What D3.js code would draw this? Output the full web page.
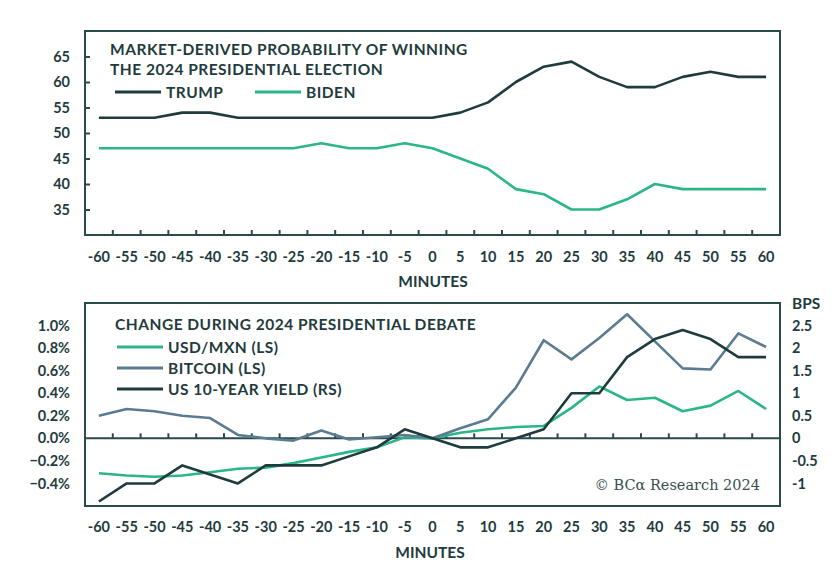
<!DOCTYPE html>
<html>
<head>
<meta charset="utf-8">
<script src="https://cdn.jsdelivr.net/npm/d3@7"></script>
<style>
    body { margin: 0; background: #fff; }
    svg text { font-family: Lato, "Open Sans", sans-serif; fill: #1f3b3d; }
    .axis text { font-size: 14.5px; font-weight: 700; }
    .title { font-size: 15.5px; font-weight: 700; letter-spacing: 0.5px; }
    .legend text { font-size: 15.5px; font-weight: 700; letter-spacing: 0.5px; }
    .frame { fill: none; stroke: #2b4a4c; stroke-width: 2; }
    .line { fill: none; stroke-width: 2.6; stroke-linejoin: round; }
</style>
</head>
<body>
<svg id="chart" width="835" height="580"></svg>
<script>

// data
const minutes = [-60,-55,-50,-45,-40,-35,-30,-25,-20,-15,-10,-5,0,5,10,15,20,25,30,35,40,45,50,55,60];

const trump = [53,53,53,54,54,53,53,53,53,53,53,53,53,54,56,60,63,64,61,59,59,61,62,61,61];
const biden = [47,47,47,47,47,47,47,47,48,47,47,48,47,45,43,39,38,35,35,37,40,39,39,39,39];

const usdmxn  = [-0.31,-0.33,-0.34,-0.33,-0.30,-0.27,-0.26,-0.22,-0.17,-0.12,-0.08,0.01,0,0.05,0.08,0.10,0.11,0.27,0.46,0.34,0.36,0.24,0.29,0.42,0.26];
const bitcoin = [0.20,0.26,0.24,0.20,0.18,0.03,0.00,-0.02,0.07,-0.01,0.01,0.03,0,0.09,0.17,0.45,0.87,0.70,0.89,1.10,0.86,0.62,0.61,0.93,0.81];
const yield10 = [-1.4,-1,-1,-0.6,-0.8,-1,-0.6,-0.6,-0.6,-0.4,-0.2,0.2,0,-0.2,-0.2,0,0.2,1,1,1.8,2.2,2.4,2.2,1.8,1.8];

const probTicks = [35,40,45,50,55,60,65];
const pctTicks  = [-0.4,-0.2,0,0.2,0.4,0.6,0.8,1.0];
const bpsTicks  = [-1,-0.5,0,0.5,1,1.5,2,2.5];

const dark  = "#1f3b3d",
      green = "#2bb689",
      slate = "#5b7b90";

const svg = d3.select('#chart');

const frameL = 85, frameR = 780;

let x = d3.scaleBand()
    .domain(minutes)
    .range([frameL, frameR]);

const cx = function(d){ return x(d) + x.bandwidth()/2 };

// x labels under a frame + inner ticks on a given line
const drawXAxis = function(labelY, tickY){
    let g = svg.append("g")
        .attr("class", "axis")
        .attr("transform", "translate(0," + labelY + ")")
        .call(d3.axisBottom(x).tickSize(0).tickPadding(0).tickFormat(function(d){ return d }));
    g.select(".domain").remove();
    g.selectAll("text").attr("dy", "0.35em");

    svg.append("g").selectAll("line")
        .data(minutes.slice(1))
        .enter()
        .append("line")
        .attr("x1", function(d){ return x(d) })
        .attr("x2", function(d){ return x(d) })
        .attr("y1", tickY)
        .attr("y2", tickY - 5)
        .attr("stroke", "#2b4a4c")
        .attr("stroke-width", 2);
};

const drawLine = function(data, xs, yScale, color){
    let l = d3.line()
        .x(function(d, i){ return cx(xs[i]) })
        .y(function(d){ return yScale(d) });
    svg.append("path")
        .datum(data)
        .attr("class", "line")
        .attr("stroke", color)
        .attr("d", l);
};

const legendItem = function(x0, y0, label, color){
    let g = svg.append("g").attr("class", "legend");
    g.append("line")
        .attr("x1", x0).attr("x2", x0 + 46)
        .attr("y1", y0).attr("y2", y0)
        .attr("stroke", color)
        .attr("stroke-width", 3);
    g.append("text")
        .attr("x", x0 + 51)
        .attr("y", y0)
        .attr("dy", "0.36em")
        .text(label);
};

// ---------- top panel ----------
const topT = 31, topB = 235;

let yProb = d3.scaleLinear().domain([30, 70]).range([topB, topT]);

svg.append("rect")
    .attr("class", "frame")
    .attr("x", frameL).attr("y", topT)
    .attr("width", frameR - frameL).attr("height", topB - topT);

let gl = svg.append("g")
    .attr("class", "axis")
    .attr("transform", "translate(" + frameL + ",0)")
    .call(d3.axisLeft(yProb).tickValues(probTicks).tickSize(-5).tickPadding(15));
gl.select(".domain").remove();
gl.selectAll("line").attr("stroke", "#2b4a4c").attr("stroke-width", 2);

drawXAxis(257, topB);

svg.append("text")
    .attr("class", "axis")
    .attr("x", 433).attr("y", 287)
    .attr("text-anchor", "middle")
    .style("font-size", "15.5px").style("font-weight", 700)
    .text("MINUTES");

drawLine(trump, minutes, yProb, dark);
drawLine(biden, minutes, yProb, green);

svg.append("text").attr("class", "title").attr("x", 110).attr("y", 55)
    .text("MARKET-DERIVED PROBABILITY OF WINNING");
svg.append("text").attr("class", "title").attr("x", 110).attr("y", 75)
    .text("THE 2024 PRESIDENTIAL ELECTION");

legendItem(115, 92, "TRUMP", dark);
legendItem(255, 92, "BIDEN", green);

// ---------- bottom panel ----------
const botT = 303, botB = 506;

let yPct = d3.scaleLinear().domain([-0.6, 1.2]).range([botB, botT]);
let yBps = d3.scaleLinear().domain([-1.5, 3]).range([botB, botT]);

svg.append("rect")
    .attr("class", "frame")
    .attr("x", frameL).attr("y", botT)
    .attr("width", frameR - frameL).attr("height", botB - botT);

svg.append("line")
    .attr("x1", frameL).attr("x2", frameR)
    .attr("y1", yPct(0)).attr("y2", yPct(0))
    .attr("stroke", "#2b4a4c")
    .attr("stroke-width", 2);

let gp = svg.append("g")
    .attr("class", "axis")
    .attr("transform", "translate(" + frameL + ",0)")
    .call(d3.axisLeft(yPct).tickValues(pctTicks).tickSize(0).tickPadding(15)
        .tickFormat(function(d){ return d3.format(".1f")(d) + "%" }));
gp.select(".domain").remove();

let gr = svg.append("g")
    .attr("class", "axis")
    .attr("transform", "translate(" + frameR + ",0)")
    .call(d3.axisRight(yBps).tickValues(bpsTicks).tickSize(0).tickPadding(12)
        .tickFormat(function(d){ return d }));
gr.select(".domain").remove();

svg.append("text")
    .attr("class", "axis")
    .attr("x", 792).attr("y", 309)
    .style("font-size", "15.5px").style("font-weight", 700)
    .text("BPS");

drawXAxis(527, yPct(0));

svg.append("text")
    .attr("class", "axis")
    .attr("x", 430).attr("y", 558)
    .attr("text-anchor", "middle")
    .style("font-size", "15.5px").style("font-weight", 700)
    .text("MINUTES");

drawLine(usdmxn, minutes, yPct, green);
drawLine(bitcoin, minutes, yPct, slate);
drawLine(yield10, minutes, yBps, dark);

svg.append("text").attr("class", "title").attr("x", 115).attr("y", 330)
    .text("CHANGE DURING 2024 PRESIDENTIAL DEBATE");

legendItem(117, 347, "USD/MXN (LS)", green);
legendItem(117, 368, "BITCOIN (LS)", slate);
legendItem(117, 389, "US 10-YEAR YIELD (RS)", dark);

svg.append("text")
    .attr("x", 760).attr("y", 490)
    .attr("text-anchor", "end")
    .style("font-family", "'DejaVu Serif', 'Liberation Serif', serif")
    .style("font-size", "14.5px")
    .style("fill", "#3b4f50")
    .text("\u00A9 BC\u03B1 Research 2024");

</script>
</body>
</html>
